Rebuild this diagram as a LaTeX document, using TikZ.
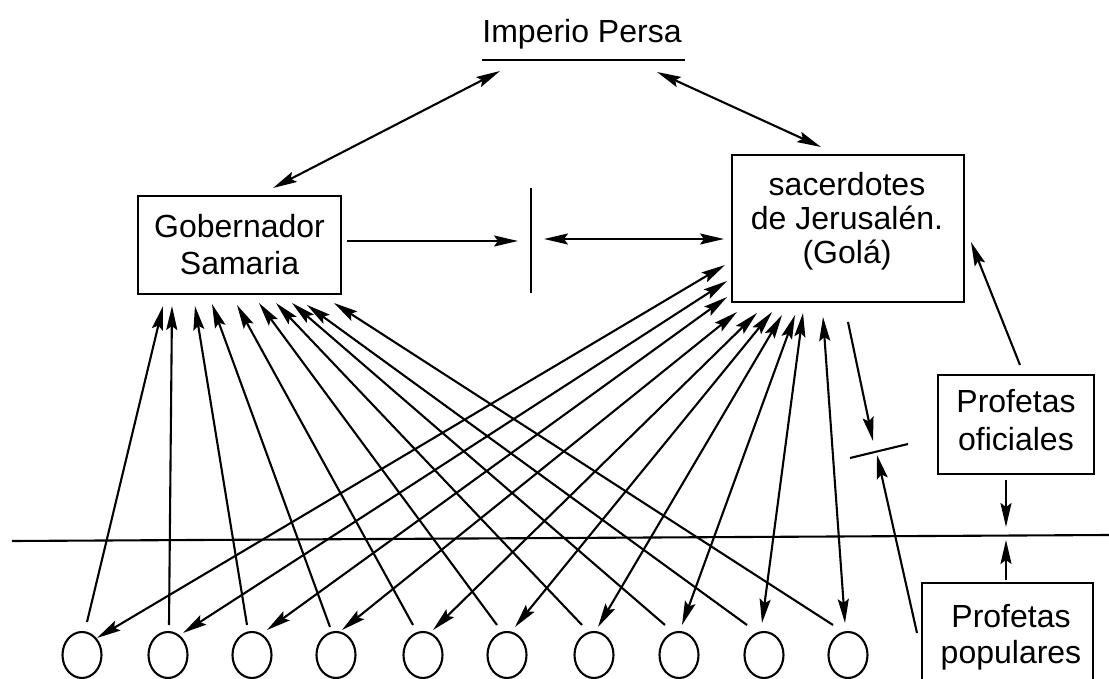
\documentclass[tikz,border=0pt]{standalone}
\usepackage{fontspec}
\setmainfont{Liberation Sans}
\usetikzlibrary{arrows.meta,shapes.geometric,calc}
\begin{document}
\begin{tikzpicture}[x=1pt,y=-1pt,line width=2.1pt,
  arr/.style={-{Stealth[length=24pt,width=11pt,inset=4pt]}},
  darr/.style={{Stealth[length=24pt,width=11pt,inset=4pt]}-{Stealth[length=24pt,width=11pt,inset=4pt]}},
  box/.style={draw,rectangle,inner sep=0pt},
  lbl/.style={font=\fontsize{32}{37}\selectfont,align=center,inner sep=0pt},
  circ/.style={draw,ellipse,minimum width=39,minimum height=46,inner sep=0pt}]
\fill[white] (0,0) rectangle (1109,679);
\path[use as bounding box,clip] (0,0) rectangle (1109,679);

% title
\node[lbl,anchor=base] (imp) at (582,43) {Imperio Persa};
\coordinate (ulL) at (482,60);
\coordinate (ulR) at (685,60);
\draw (ulL) -- (ulR);

% boxes
\node[box,lbl,minimum width=203,minimum height=98] (gob) at (239.5,245) {Gobernador\\Samaria};
\node[box,minimum width=232,minimum height=147] (sac) at (848,228.5) {};
\node[lbl,font=\fontsize{32}{34}\selectfont] (sactxt) at (847,221) {sacerdotes\\de Jerusalén.\\(Golá)};
\node[box,minimum width=156,minimum height=99] (ofi) at (1016,424.5) {};
\node[lbl,font=\fontsize{32}{38}\selectfont] (ofitxt) at (1016,420.5) {Profetas\\oficiales};
\node[box,minimum width=171,minimum height=120] (pop) at (1007.5,643) {};
\node[lbl,font=\fontsize{32}{36}\selectfont] (poptxt) at (1011,637) {Profetas\\populares};

% Imperio arrows
\coordinate (impL) at (500,71);
\coordinate (gobT) at (273,188);
\coordinate (impR) at (657,72);
\coordinate (sacT) at (821,147);
\draw[darr] (gobT) -- (impL);
\draw[darr] (impR) -- (sacT);

% vertical bar between boxes
\coordinate (vbT) at (531,188);
\coordinate (vbB) at (531,293);
\draw (vbT) -- (vbB);
\coordinate (gobR) at (347,241);
\coordinate (vbL) at (518,241);
\draw[arr] (gobR) -- (vbL);
\coordinate (vbR) at (544,239);
\coordinate (sacL) at (724,239);
\draw[darr] (vbR) -- (sacL);

% horizontal divider
\coordinate (hl) at (12,541);
\coordinate (hr) at (1109,535);
\draw (hl) -- (hr);

% circles
\foreach \i/\x in {1/82,2/168,3/252,4/336,5/423,6/507,7/594,8/679,9/764,10/848}
  \node[circ] (c\i) at (\x,655) {};

% lines from circles to Gobernador
\foreach \i/\tx/\ty/\hx/\hy in {1/87/622/163/306,2/169/625/172/306,3/247/625/195/306,
  4/330/627/212/304,5/413/625/237/305,6/497/625/259/303,7/582/625/276/303,
  8/665/625/292/303,9/747/625/307/305,10/833/625/334/303}{
  \coordinate (gt\i) at (\tx,\ty);
  \coordinate (gh\i) at (\hx,\hy);
  \draw[arr] (gt\i) -- (gh\i);
}

% lines between sacerdotes and circles
\foreach \i/\sx/\sy/\cx/\cy in {1/725/265/97/638,2/727/281/183/633,3/727/297/267/630,
  4/737/312/342/630,5/757/313/433/630,6/772/312/515/627,7/782/315/598/627,
  8/795/315/682/625,9/803/313/762/623,10/823/317/845/623}{
  \coordinate (sh\i) at (\sx,\sy);
  \coordinate (ct\i) at (\cx,\cy);
  \draw[darr] (sh\i) -- (ct\i);
}

% blocked arrows
\coordinate (bL) at (850,458);
\coordinate (bR) at (908,444);
\draw (bL) -- (bR);
\coordinate (sacB) at (848,322);
\coordinate (bTop) at (873,441);
\draw[arr] (sacB) -- (bTop);
\coordinate (popL) at (917,633);
\coordinate (bBot) at (877,455);
\draw[arr] (popL) -- (bBot);

% Profetas oficiales arrows
\coordinate (ofiT) at (1020,365);
\coordinate (sacRi) at (971,242);
\draw[arr] (ofiT) -- (sacRi);
\coordinate (ofiB) at (1006,480);
\coordinate (hOfi) at (1006,527);
\draw[arr] (ofiB) -- (hOfi);
\coordinate (popT) at (1006,580);
\coordinate (hPop) at (1006,540);
\draw[arr] (popT) -- (hPop);
\end{tikzpicture}
\end{document}
